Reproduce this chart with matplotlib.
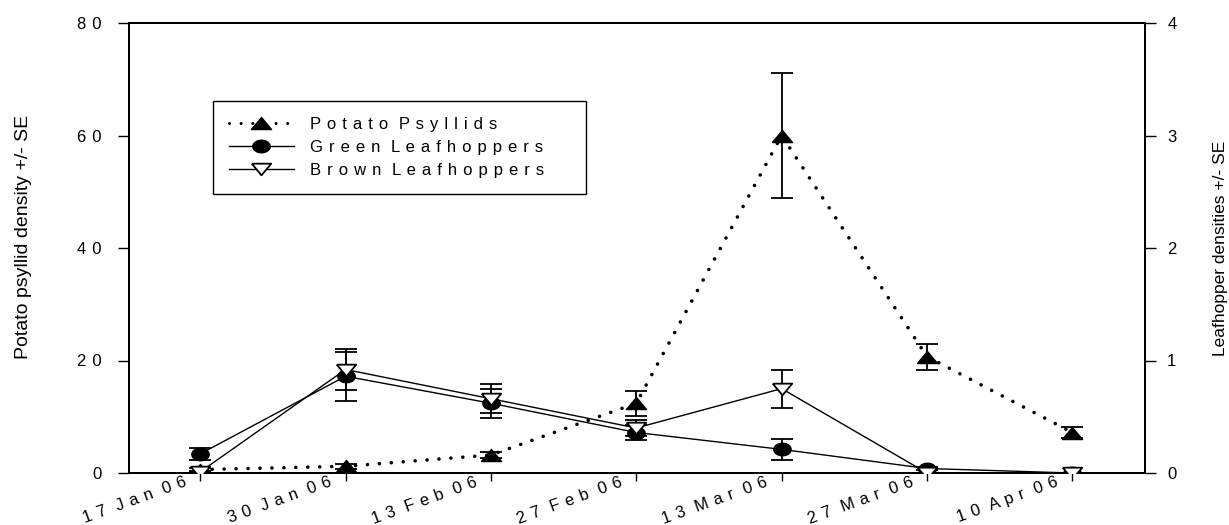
import numpy as np
import matplotlib
matplotlib.use("Agg")
import matplotlib.pyplot as plt
from matplotlib.lines import Line2D
import matplotlib.transforms as mtransforms

plt.rcParams['font.family'] = ['Liberation Sans', 'DejaVu Sans']

# ---- data ----
dates = ["17 Jan 06", "30 Jan 06", "13 Feb 06", "27 Feb 06", "13 Mar 06", "27 Mar 06", "10 Apr 06"]
psyllid_mean = [0.6, 1.2, 3.2, 12.4, 60.0, 20.7, 7.2]
psyllid_se = [0.3, 0.4, 0.6, 2.2, 11.1, 2.3, 0.9]
green_mean = [0.17, 0.86, 0.62, 0.36, 0.21, 0.04, 0.0]
green_se = [0.05, 0.22, 0.13, 0.07, 0.09, 0.01, 0.0]
brown_mean = [0.01, 0.92, 0.66, 0.40, 0.75, 0.0, 0.0]
brown_se = [0.0, 0.18, 0.13, 0.07, 0.17, 0.0, 0.0]
left_ticks = [0, 20, 40, 60, 80]
right_ticks = [0, 1, 2, 3, 4]
legend_labels = ["Potato Psyllids", "Green Leafhoppers", "Brown Leafhoppers"]
left_label = "Potato psyllid density +/- SE"
right_label = "Leafhopper densities +/- SE"

GAP = " \u200a"          # letter spacing
WGAP = " \u200a "        # word spacing


def spaced(s):
    return WGAP.join(GAP.join(w) for w in s.split(" "))


W, H = 1229, 525
fig = plt.figure(figsize=(W / 100, H / 100), dpi=100)
ax1 = fig.add_axes([129 / W, 1 - 473 / H, (1145 - 129) / W, (473 - 23) / H])
ax2 = ax1.twinx()

x = np.arange(len(dates))

# custom (stretched) marker shapes
tri_up = [(-1, -0.6), (1, -0.6), (0, 0.6), (-1, -0.6)]
tri_dn = [(-1, 0.6), (1, 0.6), (0, -0.6), (-1, 0.6)]
th = np.linspace(0, 2 * np.pi, 40)
ellipse = list(zip(np.cos(th), 0.72 * np.sin(th)))

lw = 1.0
# psyllids on left axis
ax1.errorbar(x, psyllid_mean, yerr=psyllid_se, fmt='none', ecolor='black',
             elinewidth=1.3, capsize=8, capthick=1.3, zorder=3)
ax1.plot(x, psyllid_mean, color='black', lw=2.6, linestyle=(0, (0.01, 3.3)),
         dash_capstyle='round', marker=tri_up, markersize=14.5,
         markerfacecolor='black', markeredgecolor='black', zorder=4)

# leafhoppers on right axis
ax2.errorbar(x, green_mean, yerr=green_se, fmt='none', ecolor='black',
             elinewidth=1.3, capsize=8, capthick=1.3, zorder=3)
ax2.errorbar(x, brown_mean, yerr=brown_se, fmt='none', ecolor='black',
             elinewidth=1.3, capsize=8, capthick=1.3, zorder=3)
ax2.plot(x, green_mean, color='black', lw=lw, marker=ellipse, markersize=12.5,
         markerfacecolor='black', markeredgecolor='black', zorder=4)
ax2.plot(x, brown_mean, color='black', lw=lw, marker=tri_dn, markersize=14,
         markerfacecolor='white', markeredgecolor='black', markeredgewidth=1.3, zorder=5)

ax1.set_xlim(-0.49, 6.5)
ax1.set_ylim(0, 80)
ax2.set_ylim(0, 4)

for a in (ax1, ax2):
    for sp in a.spines.values():
        sp.set_linewidth(1.3)

ax1.set_yticks(left_ticks)
ax1.set_yticklabels([spaced(str(v)) for v in left_ticks], fontsize=12)
ax1.tick_params(axis='y', direction='out', length=8, width=1.0, pad=11.5)
ax2.set_yticks(right_ticks)
ax2.set_yticklabels([str(v) for v in right_ticks], fontsize=12)
ax2.tick_params(axis='y', direction='out', length=8, width=1.0, pad=8)

ax1.set_xticks(x)
ax1.set_xticklabels([spaced(d) for d in dates], fontsize=12, rotation=20,
                    ha='right', va='top', rotation_mode='anchor')
ax1.tick_params(axis='x', direction='out', length=6, width=1.0, pad=0)
offset = mtransforms.ScaledTranslation(-17 / 100, 7 / 100, fig.dpi_scale_trans)
for lab in ax1.get_xticklabels():
    lab.set_transform(lab.get_transform() + offset)

fig.text(24 / W, 1 - 237 / H, left_label, rotation=90, fontsize=14, ha='center', va='center')
fig.text(1221 / W, 1 - 248 / H, right_label, rotation=90, fontsize=12.5, ha='center', va='center')

handles = [
    Line2D([], [], color='black', lw=2.2, linestyle=(0, (0.01, 3.8)), dash_capstyle='round',
           marker=tri_up, markersize=14.5, markerfacecolor='black'),
    Line2D([], [], color='black', lw=lw, marker=ellipse, markersize=12.5, markerfacecolor='black'),
    Line2D([], [], color='black', lw=lw, marker=tri_dn, markersize=14,
           markerfacecolor='white', markeredgewidth=1.3),
]
leg = ax2.legend(handles, [spaced(l) for l in legend_labels], loc='upper left',
                 bbox_to_anchor=(213 / W, 1 - 191 / H, 373 / W, 90 / H),
                 bbox_transform=fig.transFigure, mode='expand',
                 borderaxespad=0, fontsize=12, handlelength=3.9, handletextpad=0.96,
                 labelspacing=0.49, borderpad=0.95, fancybox=False, framealpha=1,
                 edgecolor='black')
leg.get_frame().set_linewidth(1.0)

fig.savefig("out.png", dpi=100)
